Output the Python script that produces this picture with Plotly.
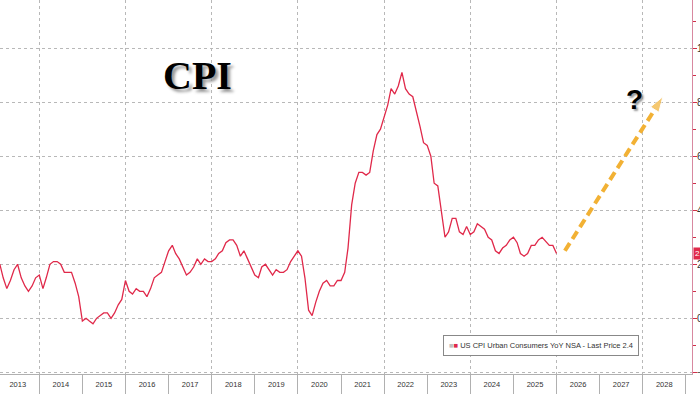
import plotly.graph_objects as go
import pandas as pd

# ---- data (US CPI YoY %, monthly) ----
cpi_2013 = [1.6, 2.0, 1.5, 1.1, 1.4, 1.8, 2.0, 1.5, 1.2, 1.0, 1.2, 1.5]
cpi_2014 = [1.6, 1.1, 1.5, 2.0, 2.1, 2.1, 2.0, 1.7, 1.7, 1.7, 1.3, 0.8]
cpi_2015 = [-0.1, 0.0, -0.1, -0.2, 0.0, 0.1, 0.2, 0.2, 0.0, 0.2, 0.5, 0.7]
cpi_2016 = [1.4, 1.0, 0.9, 1.1, 1.0, 1.0, 0.8, 1.1, 1.5, 1.6, 1.7, 2.1]
cpi_2017 = [2.5, 2.7, 2.4, 2.2, 1.9, 1.6, 1.7, 1.9, 2.2, 2.0, 2.2, 2.1]
cpi_2018 = [2.1, 2.2, 2.4, 2.5, 2.8, 2.9, 2.9, 2.7, 2.3, 2.5, 2.2, 1.9]
cpi_2019 = [1.6, 1.5, 1.9, 2.0, 1.8, 1.6, 1.8, 1.7, 1.7, 1.8, 2.1, 2.3]
cpi_2020 = [2.5, 2.3, 1.5, 0.3, 0.1, 0.6, 1.0, 1.3, 1.4, 1.2, 1.2, 1.4]
cpi_2021 = [1.4, 1.7, 2.6, 4.2, 5.0, 5.4, 5.4, 5.3, 5.4, 6.2, 6.8, 7.0]
cpi_2022 = [7.5, 7.9, 8.5, 8.3, 8.6, 9.1, 8.5, 8.3, 8.2, 7.7, 7.1, 6.5]
cpi_2023 = [6.4, 6.0, 5.0, 4.9, 4.0, 3.0, 3.2, 3.7, 3.7, 3.2, 3.1, 3.4]
cpi_2024 = [3.1, 3.2, 3.5, 3.4, 3.3, 3.0, 2.9, 2.5, 2.4, 2.6, 2.7, 2.9]
cpi_2025 = [3.0, 2.8, 2.4, 2.3, 2.4, 2.7, 2.7, 2.9, 3.0, None, 2.7, 2.7]
cpi_2026 = [2.4]

cpi_values = (cpi_2013 + cpi_2014 + cpi_2015 + cpi_2016 + cpi_2017 + cpi_2018 +
              cpi_2019 + cpi_2020 + cpi_2021 + cpi_2022 + cpi_2023 + cpi_2024 +
              cpi_2025 + cpi_2026)
cpi_dates = pd.date_range("2013-01-01", periods=len(cpi_values), freq="MS")

arrow_dates = ["2026-03-13", "2028-06-20"]
arrow_values = [2.5, 8.2]

x_range = ["2013-02-02", "2029-02-22"]
y_range = [-2.06, 11.78]
last_price = 2.4

legend_label = "US CPI Urban Consumers YoY NSA - Last Price 2.4"
title_text = "CPI"

LINE_RED = "#e0294a"

fig = go.Figure()

fig.add_trace(go.Scatter(
    x=cpi_dates, y=cpi_values, mode="lines", connectgaps=True,
    line=dict(color=LINE_RED, width=1.3), hoverinfo="skip", showlegend=False))

fig.add_trace(go.Scatter(
    x=arrow_dates, y=arrow_values, mode="lines+markers",
    line=dict(color="#f2b134", width=4, dash="9px,5px"),
    marker=dict(symbol=["circle", "arrow"], size=[0, 16], color="#f2b134",
                angleref="previous", standoff=0),
    hoverinfo="skip", showlegend=False))

# invisible helper trace for the 2-year grid axis
fig.add_trace(go.Scatter(
    x=[cpi_dates[0]], y=[cpi_values[0]], xaxis="x2", mode="markers",
    marker=dict(opacity=0), hoverinfo="skip", showlegend=False))

fig.update_layout(
    width=700, height=394,
    margin=dict(l=0, r=8, t=0, b=20),
    paper_bgcolor="white", plot_bgcolor="white",
    showlegend=False,
    font=dict(family="Liberation Sans, Arial, sans-serif", color="#333"),
    xaxis=dict(
        type="date", range=x_range, showgrid=False, zeroline=False,
        ticks="outside", ticklen=20, tickcolor="#b0b0b0", tickwidth=1,
        dtick="M12", tick0="2013-01-01", ticklabelmode="period",
        tickformat="%Y", tickfont=dict(size=7.5, color="#333"),
        showline=True, linecolor="#b0b0b0", linewidth=1,
        ticklabelstandoff=-17, automargin=False),
    xaxis2=dict(
        type="date", overlaying="x", range=x_range, showgrid=True,
        gridcolor="#b8b8b8", griddash="dot", gridwidth=1,
        dtick="M24", tick0="2014-01-01", showticklabels=False,
        ticks="", showline=False, zeroline=False, automargin=False),
    yaxis=dict(
        side="right", range=y_range, dtick=2, tick0=0,
        showgrid=True, gridcolor="#b8b8b8", griddash="dot", gridwidth=1,
        ticks="outside", ticklen=4, tickcolor="#d0304a",
        showline=True, linecolor="#d888a0", linewidth=1,
        minor=dict(dtick=1, ticks="outside", ticklen=3, tickcolor="#d0304a"),
        tickfont=dict(size=10, color="#333"), zeroline=False,
        ticklabelstandoff=-2, automargin=False),
)

fig.add_annotation(
    text=title_text, xref="paper", yref="paper", x=197 / 692, y=1 - 75 / 374,
    xanchor="center", yanchor="middle", showarrow=False,
    font=dict(family="Liberation Serif, Times New Roman, serif", size=40,
              color="black", weight="bold", shadow="3px 3px 3px #999"))

fig.add_annotation(
    text="?", xref="paper", yref="paper", x=634 / 692, y=1 - 100 / 374,
    xanchor="center", yanchor="middle", showarrow=False,
    font=dict(family="Liberation Sans, Arial, sans-serif", size=28,
              color="black", weight="bold", shadow="2px 2px 2px #999"))

fig.add_annotation(
    text=('<span style="color:#c0c0c0">■</span><span style="color:' + LINE_RED +
          '">■</span> ' + legend_label),
    xref="paper", yref="paper", x=541 / 692, y=1 - 345.5 / 374,
    xanchor="center", yanchor="middle",
    showarrow=False, bordercolor="#888", borderwidth=1, borderpad=5,
    bgcolor="white", font=dict(size=7.5, color="#333"))

fig.add_annotation(
    text=f"{last_price}", xref="paper", yref="y", x=1.0, y=last_price,
    xanchor="left", yanchor="middle", xshift=1, showarrow=False,
    bgcolor=LINE_RED, borderpad=1, font=dict(size=8, color="white"))

fig.write_html("out.html", config={"displayModeBar": False},
               post_script="document.body.style.margin='0';")
